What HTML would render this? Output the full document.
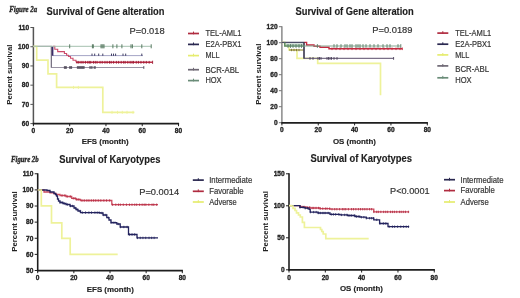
<!DOCTYPE html><html><head><meta charset="utf-8"><style>html,body{margin:0;padding:0;background:#fff;}svg{display:block;filter:blur(0.6px)}</style></head><body>
<svg width="520" height="298" viewBox="0 0 520 298">
<rect width="520" height="298" fill="#ffffff"/>
<text x="9.2" y="12.2" font-size="7.6" font-weight="bold" text-anchor="start" fill="#2a2a2a" font-family='"Liberation Serif", serif' font-style="italic" textLength="28" lengthAdjust="spacingAndGlyphs" stroke="#2a2a2a" stroke-width="0.35">Figure 2a</text>
<text x="46.5" y="15.3" font-size="10" font-weight="bold" text-anchor="start" fill="#1e1e1e" font-family='"Liberation Sans", sans-serif' font-style="normal" textLength="118" lengthAdjust="spacingAndGlyphs" stroke="#1e1e1e" stroke-width="0.15">Survival of Gene alteration</text>
<text x="129.6" y="34.1" font-size="9.9" font-weight="normal" text-anchor="start" fill="#333" font-family='"Liberation Sans", sans-serif' font-style="normal" textLength="35" lengthAdjust="spacingAndGlyphs" stroke="#333" stroke-width="0.2">P=0.018</text>
<line x1="33.4" y1="27.0" x2="33.4" y2="124.19999999999999" stroke="#555" stroke-width="1.5"/>
<line x1="30.4" y1="27.5" x2="33.4" y2="27.5" stroke="#555" stroke-width="1.0"/>
<text x="29.099999999999998" y="29.8" font-size="6.6" font-weight="bold" text-anchor="end" fill="#222" font-family='"Liberation Sans", sans-serif' font-style="normal" stroke="#222" stroke-width="0.3">110</text>
<line x1="30.4" y1="46.72" x2="33.4" y2="46.72" stroke="#555" stroke-width="1.0"/>
<text x="29.099999999999998" y="49.019999999999996" font-size="6.6" font-weight="bold" text-anchor="end" fill="#222" font-family='"Liberation Sans", sans-serif' font-style="normal" stroke="#222" stroke-width="0.3">100</text>
<line x1="30.4" y1="65.94" x2="33.4" y2="65.94" stroke="#555" stroke-width="1.0"/>
<text x="29.099999999999998" y="68.24" font-size="6.6" font-weight="bold" text-anchor="end" fill="#222" font-family='"Liberation Sans", sans-serif' font-style="normal" stroke="#222" stroke-width="0.3">90</text>
<line x1="30.4" y1="85.16" x2="33.4" y2="85.16" stroke="#555" stroke-width="1.0"/>
<text x="29.099999999999998" y="87.46" font-size="6.6" font-weight="bold" text-anchor="end" fill="#222" font-family='"Liberation Sans", sans-serif' font-style="normal" stroke="#222" stroke-width="0.3">80</text>
<line x1="30.4" y1="104.38" x2="33.4" y2="104.38" stroke="#555" stroke-width="1.0"/>
<text x="29.099999999999998" y="106.67999999999999" font-size="6.6" font-weight="bold" text-anchor="end" fill="#222" font-family='"Liberation Sans", sans-serif' font-style="normal" stroke="#222" stroke-width="0.3">70</text>
<line x1="30.4" y1="123.6" x2="33.4" y2="123.6" stroke="#555" stroke-width="1.0"/>
<text x="29.099999999999998" y="125.89999999999999" font-size="6.6" font-weight="bold" text-anchor="end" fill="#222" font-family='"Liberation Sans", sans-serif' font-style="normal" stroke="#222" stroke-width="0.3">60</text>
<line x1="32.8" y1="123.6" x2="179.1" y2="123.6" stroke="#1e1e1e" stroke-width="1.7"/>
<line x1="33.4" y1="123.6" x2="33.4" y2="126.19999999999999" stroke="#1e1e1e" stroke-width="1.0"/>
<text x="33.4" y="133.2" font-size="6.6" font-weight="bold" text-anchor="middle" fill="#222" font-family='"Liberation Sans", sans-serif' font-style="normal" stroke="#222" stroke-width="0.3">0</text>
<line x1="69.68" y1="123.6" x2="69.68" y2="126.19999999999999" stroke="#1e1e1e" stroke-width="1.0"/>
<text x="69.68" y="133.2" font-size="6.6" font-weight="bold" text-anchor="middle" fill="#222" font-family='"Liberation Sans", sans-serif' font-style="normal" stroke="#222" stroke-width="0.3">20</text>
<line x1="105.96000000000001" y1="123.6" x2="105.96000000000001" y2="126.19999999999999" stroke="#1e1e1e" stroke-width="1.0"/>
<text x="105.96000000000001" y="133.2" font-size="6.6" font-weight="bold" text-anchor="middle" fill="#222" font-family='"Liberation Sans", sans-serif' font-style="normal" stroke="#222" stroke-width="0.3">40</text>
<line x1="142.24" y1="123.6" x2="142.24" y2="126.19999999999999" stroke="#1e1e1e" stroke-width="1.0"/>
<text x="142.24" y="133.2" font-size="6.6" font-weight="bold" text-anchor="middle" fill="#222" font-family='"Liberation Sans", sans-serif' font-style="normal" stroke="#222" stroke-width="0.3">60</text>
<line x1="178.52" y1="123.6" x2="178.52" y2="126.19999999999999" stroke="#1e1e1e" stroke-width="1.0"/>
<text x="178.52" y="133.2" font-size="6.6" font-weight="bold" text-anchor="middle" fill="#222" font-family='"Liberation Sans", sans-serif' font-style="normal" stroke="#222" stroke-width="0.3">80</text>
<text x="0" y="0" font-size="8" font-weight="bold" text-anchor="middle" fill="#222" font-family='"Liberation Sans", sans-serif' textLength="60.1" lengthAdjust="spacingAndGlyphs" transform="translate(12.4,74.65) rotate(-90)">Percent survival</text>
<text x="105.2" y="144.4" font-size="8" font-weight="bold" text-anchor="middle" fill="#222" font-family='"Liberation Sans", sans-serif' font-style="normal" textLength="47" lengthAdjust="spacingAndGlyphs" stroke="#222" stroke-width="0.15">EFS (month)</text>
<polyline points="33.40,46.30 51.40,46.30 51.40,67.50 143.80,67.50 143.80,67.50" fill="none" stroke="#9a94a4" stroke-width="1.1" stroke-linejoin="miter"/>
<line x1="51.4" y1="46.3" x2="51.4" y2="67.5" stroke="#7a7484" stroke-width="1.2"/>
<line x1="64.4" y1="66.1" x2="64.4" y2="68.9" stroke="#4a4452" stroke-width="0.9"/>
<line x1="65.4" y1="66.1" x2="65.4" y2="68.9" stroke="#4a4452" stroke-width="0.9"/>
<line x1="66.3" y1="66.1" x2="66.3" y2="68.9" stroke="#4a4452" stroke-width="0.9"/>
<line x1="69.7" y1="66.1" x2="69.7" y2="68.9" stroke="#4a4452" stroke-width="0.9"/>
<line x1="70.7" y1="66.1" x2="70.7" y2="68.9" stroke="#4a4452" stroke-width="0.9"/>
<line x1="71.6" y1="66.1" x2="71.6" y2="68.9" stroke="#4a4452" stroke-width="0.9"/>
<line x1="77.4" y1="66.1" x2="77.4" y2="68.9" stroke="#4a4452" stroke-width="0.9"/>
<line x1="78.4" y1="66.1" x2="78.4" y2="68.9" stroke="#4a4452" stroke-width="0.9"/>
<line x1="79.4" y1="66.1" x2="79.4" y2="68.9" stroke="#4a4452" stroke-width="0.9"/>
<line x1="80.4" y1="66.1" x2="80.4" y2="68.9" stroke="#4a4452" stroke-width="0.9"/>
<line x1="81.4" y1="66.1" x2="81.4" y2="68.9" stroke="#4a4452" stroke-width="0.9"/>
<line x1="82.4" y1="66.1" x2="82.4" y2="68.9" stroke="#4a4452" stroke-width="0.9"/>
<line x1="83.3" y1="66.1" x2="83.3" y2="68.9" stroke="#4a4452" stroke-width="0.9"/>
<line x1="84.1" y1="66.1" x2="84.1" y2="68.9" stroke="#4a4452" stroke-width="0.9"/>
<line x1="89.9" y1="66.1" x2="89.9" y2="68.9" stroke="#4a4452" stroke-width="0.9"/>
<line x1="91" y1="66.1" x2="91" y2="68.9" stroke="#4a4452" stroke-width="0.9"/>
<line x1="92" y1="66.1" x2="92" y2="68.9" stroke="#4a4452" stroke-width="0.9"/>
<line x1="94.2" y1="66.1" x2="94.2" y2="68.9" stroke="#4a4452" stroke-width="0.9"/>
<line x1="95.2" y1="66.1" x2="95.2" y2="68.9" stroke="#4a4452" stroke-width="0.9"/>
<line x1="143.8" y1="66.1" x2="143.8" y2="68.9" stroke="#4a4452" stroke-width="0.9"/>
<polyline points="52.90,55.60 143.00,55.60" fill="none" stroke="#9a9ac0" stroke-width="0.9" stroke-linejoin="miter"/>
<line x1="52.6" y1="46.3" x2="52.6" y2="55.8" stroke="#3c2c6a" stroke-width="1.6"/>
<line x1="92" y1="53.6" x2="92" y2="55.8" stroke="#2a2850" stroke-width="0.9"/>
<line x1="94.7" y1="53.6" x2="94.7" y2="55.8" stroke="#2a2850" stroke-width="0.9"/>
<line x1="98.7" y1="53.6" x2="98.7" y2="55.8" stroke="#2a2850" stroke-width="0.9"/>
<line x1="102.8" y1="53.6" x2="102.8" y2="55.8" stroke="#2a2850" stroke-width="0.9"/>
<line x1="111.5" y1="53.6" x2="111.5" y2="55.8" stroke="#2a2850" stroke-width="0.9"/>
<line x1="113.5" y1="53.6" x2="113.5" y2="55.8" stroke="#2a2850" stroke-width="0.9"/>
<line x1="115.6" y1="53.6" x2="115.6" y2="55.8" stroke="#2a2850" stroke-width="0.9"/>
<line x1="123" y1="53.6" x2="123" y2="55.8" stroke="#2a2850" stroke-width="0.9"/>
<line x1="125.7" y1="53.6" x2="125.7" y2="55.8" stroke="#2a2850" stroke-width="0.9"/>
<line x1="141.8" y1="53.6" x2="141.8" y2="55.8" stroke="#2a2850" stroke-width="0.9"/>
<polyline points="52.90,46.30 54.80,46.30 54.80,49.20 57.70,49.20 57.70,51.60 64.40,51.60 64.40,53.50 66.60,53.50 66.60,55.20 68.50,55.20 68.50,56.50 70.50,56.50 70.50,58.30 73.00,58.30 73.00,60.20 76.00,60.20 76.00,62.30" fill="none" stroke="#cc4a6a" stroke-width="1.1" stroke-linejoin="miter"/>
<polyline points="76.00,62.30 152.60,62.30" fill="none" stroke="#c03048" stroke-width="1.5" stroke-linejoin="miter"/>
<line x1="77" y1="60.9" x2="77" y2="63.699999999999996" stroke="#9a1c34" stroke-width="0.9"/>
<line x1="78.78074340334703" y1="60.9" x2="78.78074340334703" y2="63.699999999999996" stroke="#9a1c34" stroke-width="0.9"/>
<line x1="81.05151016382055" y1="60.9" x2="81.05151016382055" y2="63.699999999999996" stroke="#9a1c34" stroke-width="0.9"/>
<line x1="83.04343843029748" y1="60.9" x2="83.04343843029748" y2="63.699999999999996" stroke="#9a1c34" stroke-width="0.9"/>
<line x1="85.4097104920514" y1="60.9" x2="85.4097104920514" y2="63.699999999999996" stroke="#9a1c34" stroke-width="0.9"/>
<line x1="87.81086297862429" y1="60.9" x2="87.81086297862429" y2="63.699999999999996" stroke="#9a1c34" stroke-width="0.9"/>
<line x1="89.315709153408" y1="60.9" x2="89.315709153408" y2="63.699999999999996" stroke="#9a1c34" stroke-width="0.9"/>
<line x1="90.73677793989579" y1="60.9" x2="90.73677793989579" y2="63.699999999999996" stroke="#9a1c34" stroke-width="0.9"/>
<line x1="93.47672847125013" y1="60.9" x2="93.47672847125013" y2="63.699999999999996" stroke="#9a1c34" stroke-width="0.9"/>
<line x1="95.29169489417494" y1="60.9" x2="95.29169489417494" y2="63.699999999999996" stroke="#9a1c34" stroke-width="0.9"/>
<line x1="97.06662443184965" y1="60.9" x2="97.06662443184965" y2="63.699999999999996" stroke="#9a1c34" stroke-width="0.9"/>
<line x1="100.0596561686664" y1="60.9" x2="100.0596561686664" y2="63.699999999999996" stroke="#9a1c34" stroke-width="0.9"/>
<line x1="102.21207778070232" y1="60.9" x2="102.21207778070232" y2="63.699999999999996" stroke="#9a1c34" stroke-width="0.9"/>
<line x1="104.95041610274134" y1="60.9" x2="104.95041610274134" y2="63.699999999999996" stroke="#9a1c34" stroke-width="0.9"/>
<line x1="107.11258123666028" y1="60.9" x2="107.11258123666028" y2="63.699999999999996" stroke="#9a1c34" stroke-width="0.9"/>
<line x1="109.53509026153094" y1="60.9" x2="109.53509026153094" y2="63.699999999999996" stroke="#9a1c34" stroke-width="0.9"/>
<line x1="111.17607653996858" y1="60.9" x2="111.17607653996858" y2="63.699999999999996" stroke="#9a1c34" stroke-width="0.9"/>
<line x1="113.59185359322488" y1="60.9" x2="113.59185359322488" y2="63.699999999999996" stroke="#9a1c34" stroke-width="0.9"/>
<line x1="116.38072608465416" y1="60.9" x2="116.38072608465416" y2="63.699999999999996" stroke="#9a1c34" stroke-width="0.9"/>
<line x1="118.61781602126744" y1="60.9" x2="118.61781602126744" y2="63.699999999999996" stroke="#9a1c34" stroke-width="0.9"/>
<line x1="121.20381899118983" y1="60.9" x2="121.20381899118983" y2="63.699999999999996" stroke="#9a1c34" stroke-width="0.9"/>
<line x1="123.67807735178118" y1="60.9" x2="123.67807735178118" y2="63.699999999999996" stroke="#9a1c34" stroke-width="0.9"/>
<line x1="125.18052765294438" y1="60.9" x2="125.18052765294438" y2="63.699999999999996" stroke="#9a1c34" stroke-width="0.9"/>
<line x1="127.79369604700328" y1="60.9" x2="127.79369604700328" y2="63.699999999999996" stroke="#9a1c34" stroke-width="0.9"/>
<line x1="130.1394553796934" y1="60.9" x2="130.1394553796934" y2="63.699999999999996" stroke="#9a1c34" stroke-width="0.9"/>
<line x1="132.02148363491855" y1="60.9" x2="132.02148363491855" y2="63.699999999999996" stroke="#9a1c34" stroke-width="0.9"/>
<line x1="133.47110243727016" y1="60.9" x2="133.47110243727016" y2="63.699999999999996" stroke="#9a1c34" stroke-width="0.9"/>
<line x1="136.25594601643647" y1="60.9" x2="136.25594601643647" y2="63.699999999999996" stroke="#9a1c34" stroke-width="0.9"/>
<line x1="138.4123445583012" y1="60.9" x2="138.4123445583012" y2="63.699999999999996" stroke="#9a1c34" stroke-width="0.9"/>
<line x1="140.9624628368065" y1="60.9" x2="140.9624628368065" y2="63.699999999999996" stroke="#9a1c34" stroke-width="0.9"/>
<line x1="143.76856331721527" y1="60.9" x2="143.76856331721527" y2="63.699999999999996" stroke="#9a1c34" stroke-width="0.9"/>
<line x1="146.3111704909932" y1="60.9" x2="146.3111704909932" y2="63.699999999999996" stroke="#9a1c34" stroke-width="0.9"/>
<line x1="149.18492835912738" y1="60.9" x2="149.18492835912738" y2="63.699999999999996" stroke="#9a1c34" stroke-width="0.9"/>
<line x1="152.6" y1="60.699999999999996" x2="152.6" y2="63.9" stroke="#9a1c34" stroke-width="0.9"/>
<polyline points="33.40,46.30 36.70,46.30 36.70,60.10 48.00,60.10 48.00,73.80 56.60,73.80 56.60,87.40 102.80,87.40 102.80,112.30 134.40,112.30 134.40,112.30" fill="none" stroke="#eef29a" stroke-width="1.7" stroke-linejoin="miter"/>
<line x1="73.5" y1="85.9" x2="73.5" y2="88.9" stroke="#eef29a" stroke-width="0.9"/>
<line x1="78.4" y1="85.9" x2="78.4" y2="88.9" stroke="#eef29a" stroke-width="0.9"/>
<line x1="112" y1="110.8" x2="112" y2="113.8" stroke="#eef29a" stroke-width="0.9"/>
<line x1="117.5" y1="110.8" x2="117.5" y2="113.8" stroke="#eef29a" stroke-width="0.9"/>
<line x1="122.3" y1="110.8" x2="122.3" y2="113.8" stroke="#eef29a" stroke-width="0.9"/>
<line x1="127" y1="110.8" x2="127" y2="113.8" stroke="#eef29a" stroke-width="0.9"/>
<line x1="133" y1="110.8" x2="133" y2="113.8" stroke="#eef29a" stroke-width="0.9"/>
<polyline points="33.40,46.30 151.20,46.30" fill="none" stroke="#a4c0ae" stroke-width="1.0" stroke-linejoin="miter"/>
<line x1="69.7" y1="44.3" x2="69.7" y2="48.3" stroke="#587a62" stroke-width="1.0"/>
<line x1="92.4" y1="44.3" x2="92.4" y2="48.3" stroke="#587a62" stroke-width="1.0"/>
<line x1="93.3" y1="44.3" x2="93.3" y2="48.3" stroke="#587a62" stroke-width="1.0"/>
<line x1="101" y1="44.3" x2="101" y2="48.3" stroke="#587a62" stroke-width="1.0"/>
<line x1="102" y1="44.3" x2="102" y2="48.3" stroke="#587a62" stroke-width="1.0"/>
<line x1="103" y1="44.3" x2="103" y2="48.3" stroke="#587a62" stroke-width="1.0"/>
<line x1="104" y1="44.3" x2="104" y2="48.3" stroke="#587a62" stroke-width="1.0"/>
<line x1="112.9" y1="44.3" x2="112.9" y2="48.3" stroke="#587a62" stroke-width="1.0"/>
<line x1="116.9" y1="44.3" x2="116.9" y2="48.3" stroke="#587a62" stroke-width="1.0"/>
<line x1="121.9" y1="44.3" x2="121.9" y2="48.3" stroke="#587a62" stroke-width="1.0"/>
<line x1="131" y1="44.3" x2="131" y2="48.3" stroke="#587a62" stroke-width="1.0"/>
<line x1="132.4" y1="44.3" x2="132.4" y2="48.3" stroke="#587a62" stroke-width="1.0"/>
<line x1="141.8" y1="44.3" x2="141.8" y2="48.3" stroke="#587a62" stroke-width="1.0"/>
<line x1="151.2" y1="44.3" x2="151.2" y2="48.3" stroke="#587a62" stroke-width="1.0"/>
<line x1="188" y1="33.5" x2="199.0" y2="33.5" stroke="#b02c40" stroke-width="1.7"/>
<line x1="193.5" y1="31.6" x2="193.5" y2="34.3" stroke="#b02c40" stroke-width="1.0"/>
<text x="205.4" y="36.3" font-size="8.4" font-weight="normal" text-anchor="start" fill="#383838" font-family='"Liberation Sans", sans-serif' font-style="normal" textLength="36.1" lengthAdjust="spacingAndGlyphs" stroke="#383838" stroke-width="0.2">TEL-AML1</text>
<line x1="188" y1="44.4" x2="199.0" y2="44.4" stroke="#2a2850" stroke-width="1.7"/>
<line x1="193.5" y1="42.5" x2="193.5" y2="45.199999999999996" stroke="#2a2850" stroke-width="1.0"/>
<text x="205.4" y="47.199999999999996" font-size="8.4" font-weight="normal" text-anchor="start" fill="#383838" font-family='"Liberation Sans", sans-serif' font-style="normal" textLength="36.1" lengthAdjust="spacingAndGlyphs" stroke="#383838" stroke-width="0.2">E2A-PBX1</text>
<line x1="188" y1="55.6" x2="199.0" y2="55.6" stroke="#e6ec70" stroke-width="1.7"/>
<line x1="193.5" y1="53.7" x2="193.5" y2="56.4" stroke="#e6ec70" stroke-width="1.0"/>
<text x="205.4" y="58.4" font-size="8.4" font-weight="normal" text-anchor="start" fill="#383838" font-family='"Liberation Sans", sans-serif' font-style="normal" textLength="14.2" lengthAdjust="spacingAndGlyphs" stroke="#383838" stroke-width="0.2">MLL</text>
<line x1="188" y1="69.7" x2="199.0" y2="69.7" stroke="#6e6874" stroke-width="1.7"/>
<line x1="193.5" y1="67.8" x2="193.5" y2="70.5" stroke="#6e6874" stroke-width="1.0"/>
<text x="205.4" y="72.5" font-size="8.4" font-weight="normal" text-anchor="start" fill="#383838" font-family='"Liberation Sans", sans-serif' font-style="normal" textLength="33.8" lengthAdjust="spacingAndGlyphs" stroke="#383838" stroke-width="0.2">BCR-ABL</text>
<line x1="188" y1="80.6" x2="199.0" y2="80.6" stroke="#6a8c78" stroke-width="1.7"/>
<line x1="193.5" y1="78.69999999999999" x2="193.5" y2="81.39999999999999" stroke="#6a8c78" stroke-width="1.0"/>
<text x="205.4" y="83.39999999999999" font-size="8.4" font-weight="normal" text-anchor="start" fill="#383838" font-family='"Liberation Sans", sans-serif' font-style="normal" textLength="16.2" lengthAdjust="spacingAndGlyphs" stroke="#383838" stroke-width="0.2">HOX</text>
<text x="295.5" y="15.3" font-size="10" font-weight="bold" text-anchor="start" fill="#1e1e1e" font-family='"Liberation Sans", sans-serif' font-style="normal" textLength="118.2" lengthAdjust="spacingAndGlyphs" stroke="#1e1e1e" stroke-width="0.15">Survival of Gene alteration</text>
<text x="372.2" y="33.0" font-size="9.9" font-weight="normal" text-anchor="start" fill="#333" font-family='"Liberation Sans", sans-serif' font-style="normal" textLength="40.3" lengthAdjust="spacingAndGlyphs" stroke="#333" stroke-width="0.2">P=0.0189</text>
<line x1="281.9" y1="26.2" x2="281.9" y2="123.3" stroke="#777" stroke-width="1.3"/>
<line x1="278.9" y1="26.700000000000003" x2="281.9" y2="26.700000000000003" stroke="#777" stroke-width="1.0"/>
<text x="277.59999999999997" y="29.000000000000004" font-size="6.6" font-weight="bold" text-anchor="end" fill="#222" font-family='"Liberation Sans", sans-serif' font-style="normal" stroke="#222" stroke-width="0.3">120</text>
<line x1="278.9" y1="42.7" x2="281.9" y2="42.7" stroke="#777" stroke-width="1.0"/>
<text x="277.59999999999997" y="45.0" font-size="6.6" font-weight="bold" text-anchor="end" fill="#222" font-family='"Liberation Sans", sans-serif' font-style="normal" stroke="#222" stroke-width="0.3">100</text>
<line x1="278.9" y1="58.7" x2="281.9" y2="58.7" stroke="#777" stroke-width="1.0"/>
<text x="277.59999999999997" y="61.0" font-size="6.6" font-weight="bold" text-anchor="end" fill="#222" font-family='"Liberation Sans", sans-serif' font-style="normal" stroke="#222" stroke-width="0.3">80</text>
<line x1="278.9" y1="74.7" x2="281.9" y2="74.7" stroke="#777" stroke-width="1.0"/>
<text x="277.59999999999997" y="77.0" font-size="6.6" font-weight="bold" text-anchor="end" fill="#222" font-family='"Liberation Sans", sans-serif' font-style="normal" stroke="#222" stroke-width="0.3">60</text>
<line x1="278.9" y1="90.7" x2="281.9" y2="90.7" stroke="#777" stroke-width="1.0"/>
<text x="277.59999999999997" y="93.0" font-size="6.6" font-weight="bold" text-anchor="end" fill="#222" font-family='"Liberation Sans", sans-serif' font-style="normal" stroke="#222" stroke-width="0.3">40</text>
<line x1="278.9" y1="106.7" x2="281.9" y2="106.7" stroke="#777" stroke-width="1.0"/>
<text x="277.59999999999997" y="109.0" font-size="6.6" font-weight="bold" text-anchor="end" fill="#222" font-family='"Liberation Sans", sans-serif' font-style="normal" stroke="#222" stroke-width="0.3">20</text>
<line x1="278.9" y1="122.7" x2="281.9" y2="122.7" stroke="#777" stroke-width="1.0"/>
<text x="277.59999999999997" y="125.0" font-size="6.6" font-weight="bold" text-anchor="end" fill="#222" font-family='"Liberation Sans", sans-serif' font-style="normal" stroke="#222" stroke-width="0.3">0</text>
<line x1="281.29999999999995" y1="122.8" x2="427.90000000000003" y2="122.8" stroke="#1e1e1e" stroke-width="1.7"/>
<line x1="281.9" y1="122.8" x2="281.9" y2="125.39999999999999" stroke="#1e1e1e" stroke-width="1.0"/>
<text x="281.9" y="132.4" font-size="6.6" font-weight="bold" text-anchor="middle" fill="#222" font-family='"Liberation Sans", sans-serif' font-style="normal" stroke="#222" stroke-width="0.3">0</text>
<line x1="318.25" y1="122.8" x2="318.25" y2="125.39999999999999" stroke="#1e1e1e" stroke-width="1.0"/>
<text x="318.25" y="132.4" font-size="6.6" font-weight="bold" text-anchor="middle" fill="#222" font-family='"Liberation Sans", sans-serif' font-style="normal" stroke="#222" stroke-width="0.3">20</text>
<line x1="354.59999999999997" y1="122.8" x2="354.59999999999997" y2="125.39999999999999" stroke="#1e1e1e" stroke-width="1.0"/>
<text x="354.59999999999997" y="132.4" font-size="6.6" font-weight="bold" text-anchor="middle" fill="#222" font-family='"Liberation Sans", sans-serif' font-style="normal" stroke="#222" stroke-width="0.3">40</text>
<line x1="390.95" y1="122.8" x2="390.95" y2="125.39999999999999" stroke="#1e1e1e" stroke-width="1.0"/>
<text x="390.95" y="132.4" font-size="6.6" font-weight="bold" text-anchor="middle" fill="#222" font-family='"Liberation Sans", sans-serif' font-style="normal" stroke="#222" stroke-width="0.3">60</text>
<line x1="427.29999999999995" y1="122.8" x2="427.29999999999995" y2="125.39999999999999" stroke="#1e1e1e" stroke-width="1.0"/>
<text x="427.29999999999995" y="132.4" font-size="6.6" font-weight="bold" text-anchor="middle" fill="#222" font-family='"Liberation Sans", sans-serif' font-style="normal" stroke="#222" stroke-width="0.3">80</text>
<text x="0" y="0" font-size="8" font-weight="bold" text-anchor="middle" fill="#222" font-family='"Liberation Sans", sans-serif' textLength="61.1" lengthAdjust="spacingAndGlyphs" transform="translate(261.1,74.2) rotate(-90)">Percent survival</text>
<text x="354.4" y="144.0" font-size="8" font-weight="bold" text-anchor="middle" fill="#222" font-family='"Liberation Sans", sans-serif' font-style="normal" textLength="43" lengthAdjust="spacingAndGlyphs" stroke="#222" stroke-width="0.15">OS (month)</text>
<polyline points="282.00,42.40 284.80,42.40 284.80,46.00 289.00,46.00 289.00,50.00 297.00,50.00 297.00,58.40 317.70,58.40 317.70,63.30 380.50,63.30 380.50,63.30 380.50,63.30 380.50,95.30" fill="none" stroke="#eef29a" stroke-width="1.7" stroke-linejoin="miter"/>
<polyline points="289.00,50.00 304.00,50.00" fill="none" stroke="#a09a48" stroke-width="1.3" stroke-linejoin="miter"/>
<line x1="291.5" y1="48.8" x2="291.5" y2="51.2" stroke="#7a7040" stroke-width="0.9"/>
<line x1="294" y1="48.8" x2="294" y2="51.2" stroke="#7a7040" stroke-width="0.9"/>
<line x1="296.5" y1="48.8" x2="296.5" y2="51.2" stroke="#7a7040" stroke-width="0.9"/>
<line x1="299" y1="48.8" x2="299" y2="51.2" stroke="#7a7040" stroke-width="0.9"/>
<polyline points="304.00,42.40 304.00,42.40 304.00,58.40 393.60,58.40 393.60,58.40" fill="none" stroke="#7a7088" stroke-width="1.1" stroke-linejoin="miter"/>
<line x1="310" y1="57.0" x2="310" y2="59.8" stroke="#4a405a" stroke-width="0.9"/>
<line x1="313" y1="57.0" x2="313" y2="59.8" stroke="#4a405a" stroke-width="0.9"/>
<line x1="318" y1="57.0" x2="318" y2="59.8" stroke="#4a405a" stroke-width="0.9"/>
<line x1="319.5" y1="57.0" x2="319.5" y2="59.8" stroke="#4a405a" stroke-width="0.9"/>
<line x1="321" y1="57.0" x2="321" y2="59.8" stroke="#4a405a" stroke-width="0.9"/>
<line x1="327" y1="57.0" x2="327" y2="59.8" stroke="#4a405a" stroke-width="0.9"/>
<line x1="328.5" y1="57.0" x2="328.5" y2="59.8" stroke="#4a405a" stroke-width="0.9"/>
<line x1="330" y1="57.0" x2="330" y2="59.8" stroke="#4a405a" stroke-width="0.9"/>
<line x1="331.5" y1="57.0" x2="331.5" y2="59.8" stroke="#4a405a" stroke-width="0.9"/>
<line x1="334" y1="57.0" x2="334" y2="59.8" stroke="#4a405a" stroke-width="0.9"/>
<line x1="337" y1="57.0" x2="337" y2="59.8" stroke="#4a405a" stroke-width="0.9"/>
<line x1="393.6" y1="57.0" x2="393.6" y2="59.8" stroke="#4a405a" stroke-width="0.9"/>
<polyline points="304.00,42.40 306.60,42.40 306.60,45.00 314.00,45.00 314.00,46.30 320.00,46.30 320.00,47.30 329.00,47.30 329.00,48.80 402.30,48.80 402.30,48.80" fill="none" stroke="#c42a40" stroke-width="1.4" stroke-linejoin="miter"/>
<line x1="332" y1="47.5" x2="332" y2="50.099999999999994" stroke="#c42a40" stroke-width="0.9"/>
<line x1="336" y1="47.5" x2="336" y2="50.099999999999994" stroke="#c42a40" stroke-width="0.9"/>
<line x1="340" y1="47.5" x2="340" y2="50.099999999999994" stroke="#c42a40" stroke-width="0.9"/>
<line x1="344" y1="47.5" x2="344" y2="50.099999999999994" stroke="#c42a40" stroke-width="0.9"/>
<line x1="348" y1="47.5" x2="348" y2="50.099999999999994" stroke="#c42a40" stroke-width="0.9"/>
<line x1="352" y1="47.5" x2="352" y2="50.099999999999994" stroke="#c42a40" stroke-width="0.9"/>
<line x1="356" y1="47.5" x2="356" y2="50.099999999999994" stroke="#c42a40" stroke-width="0.9"/>
<line x1="360" y1="47.5" x2="360" y2="50.099999999999994" stroke="#c42a40" stroke-width="0.9"/>
<line x1="364" y1="47.5" x2="364" y2="50.099999999999994" stroke="#c42a40" stroke-width="0.9"/>
<line x1="368" y1="47.5" x2="368" y2="50.099999999999994" stroke="#c42a40" stroke-width="0.9"/>
<line x1="372" y1="47.5" x2="372" y2="50.099999999999994" stroke="#c42a40" stroke-width="0.9"/>
<line x1="376" y1="47.5" x2="376" y2="50.099999999999994" stroke="#c42a40" stroke-width="0.9"/>
<line x1="380" y1="47.5" x2="380" y2="50.099999999999994" stroke="#c42a40" stroke-width="0.9"/>
<line x1="384" y1="47.5" x2="384" y2="50.099999999999994" stroke="#c42a40" stroke-width="0.9"/>
<line x1="388" y1="47.5" x2="388" y2="50.099999999999994" stroke="#c42a40" stroke-width="0.9"/>
<line x1="392" y1="47.5" x2="392" y2="50.099999999999994" stroke="#c42a40" stroke-width="0.9"/>
<line x1="396" y1="47.5" x2="396" y2="50.099999999999994" stroke="#c42a40" stroke-width="0.9"/>
<line x1="400" y1="47.5" x2="400" y2="50.099999999999994" stroke="#c42a40" stroke-width="0.9"/>
<line x1="402.3" y1="47.5" x2="402.3" y2="50.099999999999994" stroke="#c42a40" stroke-width="0.9"/>
<polyline points="281.90,42.40 304.00,42.40" fill="none" stroke="#4c4c66" stroke-width="1.3" stroke-linejoin="miter"/>
<line x1="304" y1="42.2" x2="304" y2="58.6" stroke="#3a3a4c" stroke-width="1.4"/>
<polyline points="284.80,42.40 284.80,42.40 284.80,46.00 304.00,46.00 304.00,46.00" fill="none" stroke="#5a8a68" stroke-width="1.5" stroke-linejoin="miter"/>
<polyline points="286.00,44.20 303.00,44.20" fill="none" stroke="#8ab098" stroke-width="0.9" stroke-linejoin="miter"/>
<polyline points="304.00,46.00 400.80,46.00" fill="none" stroke="#86a892" stroke-width="1.1" stroke-linejoin="miter"/>
<line x1="288" y1="44.1" x2="288" y2="47.9" stroke="#5a7e66" stroke-width="0.9"/>
<line x1="290.5" y1="44.1" x2="290.5" y2="47.9" stroke="#5a7e66" stroke-width="0.9"/>
<line x1="293" y1="44.1" x2="293" y2="47.9" stroke="#5a7e66" stroke-width="0.9"/>
<line x1="296" y1="44.1" x2="296" y2="47.9" stroke="#5a7e66" stroke-width="0.9"/>
<line x1="299" y1="44.1" x2="299" y2="47.9" stroke="#5a7e66" stroke-width="0.9"/>
<line x1="301.5" y1="44.1" x2="301.5" y2="47.9" stroke="#5a7e66" stroke-width="0.9"/>
<line x1="317.4" y1="44.1" x2="317.4" y2="47.9" stroke="#5a7e66" stroke-width="0.9"/>
<line x1="334" y1="44.1" x2="334" y2="47.9" stroke="#5a7e66" stroke-width="0.9"/>
<line x1="337" y1="44.1" x2="337" y2="47.9" stroke="#5a7e66" stroke-width="0.9"/>
<line x1="341" y1="44.1" x2="341" y2="47.9" stroke="#5a7e66" stroke-width="0.9"/>
<line x1="345" y1="44.1" x2="345" y2="47.9" stroke="#5a7e66" stroke-width="0.9"/>
<line x1="347" y1="44.1" x2="347" y2="47.9" stroke="#5a7e66" stroke-width="0.9"/>
<line x1="350" y1="44.1" x2="350" y2="47.9" stroke="#5a7e66" stroke-width="0.9"/>
<line x1="352" y1="44.1" x2="352" y2="47.9" stroke="#5a7e66" stroke-width="0.9"/>
<line x1="356" y1="44.1" x2="356" y2="47.9" stroke="#5a7e66" stroke-width="0.9"/>
<line x1="358" y1="44.1" x2="358" y2="47.9" stroke="#5a7e66" stroke-width="0.9"/>
<line x1="360" y1="44.1" x2="360" y2="47.9" stroke="#5a7e66" stroke-width="0.9"/>
<line x1="363" y1="44.1" x2="363" y2="47.9" stroke="#5a7e66" stroke-width="0.9"/>
<line x1="366" y1="44.1" x2="366" y2="47.9" stroke="#5a7e66" stroke-width="0.9"/>
<line x1="370" y1="44.1" x2="370" y2="47.9" stroke="#5a7e66" stroke-width="0.9"/>
<line x1="374" y1="44.1" x2="374" y2="47.9" stroke="#5a7e66" stroke-width="0.9"/>
<line x1="378" y1="44.1" x2="378" y2="47.9" stroke="#5a7e66" stroke-width="0.9"/>
<line x1="383" y1="44.1" x2="383" y2="47.9" stroke="#5a7e66" stroke-width="0.9"/>
<line x1="387" y1="44.1" x2="387" y2="47.9" stroke="#5a7e66" stroke-width="0.9"/>
<line x1="390" y1="44.1" x2="390" y2="47.9" stroke="#5a7e66" stroke-width="0.9"/>
<line x1="398" y1="44.1" x2="398" y2="47.9" stroke="#5a7e66" stroke-width="0.9"/>
<line x1="400.8" y1="44.1" x2="400.8" y2="47.9" stroke="#5a7e66" stroke-width="0.9"/>
<line x1="437.3" y1="33.1" x2="448.3" y2="33.1" stroke="#b02c40" stroke-width="1.7"/>
<line x1="442.8" y1="31.200000000000003" x2="442.8" y2="33.9" stroke="#b02c40" stroke-width="1.0"/>
<text x="455.2" y="35.9" font-size="8.4" font-weight="normal" text-anchor="start" fill="#383838" font-family='"Liberation Sans", sans-serif' font-style="normal" textLength="36.1" lengthAdjust="spacingAndGlyphs" stroke="#383838" stroke-width="0.2">TEL-AML1</text>
<line x1="437.3" y1="44.2" x2="448.3" y2="44.2" stroke="#2a2850" stroke-width="1.7"/>
<line x1="442.8" y1="42.300000000000004" x2="442.8" y2="45.0" stroke="#2a2850" stroke-width="1.0"/>
<text x="455.2" y="47.0" font-size="8.4" font-weight="normal" text-anchor="start" fill="#383838" font-family='"Liberation Sans", sans-serif' font-style="normal" textLength="36.1" lengthAdjust="spacingAndGlyphs" stroke="#383838" stroke-width="0.2">E2A-PBX1</text>
<line x1="437.3" y1="54.9" x2="448.3" y2="54.9" stroke="#e6ec70" stroke-width="1.7"/>
<line x1="442.8" y1="53.0" x2="442.8" y2="55.699999999999996" stroke="#e6ec70" stroke-width="1.0"/>
<text x="455.2" y="57.699999999999996" font-size="8.4" font-weight="normal" text-anchor="start" fill="#383838" font-family='"Liberation Sans", sans-serif' font-style="normal" textLength="14.2" lengthAdjust="spacingAndGlyphs" stroke="#383838" stroke-width="0.2">MLL</text>
<line x1="437.3" y1="65.9" x2="448.3" y2="65.9" stroke="#6e6874" stroke-width="1.7"/>
<line x1="442.8" y1="64.0" x2="442.8" y2="66.7" stroke="#6e6874" stroke-width="1.0"/>
<text x="455.2" y="71.5" font-size="8.4" font-weight="normal" text-anchor="start" fill="#383838" font-family='"Liberation Sans", sans-serif' font-style="normal" textLength="34.0" lengthAdjust="spacingAndGlyphs" stroke="#383838" stroke-width="0.2">BCR-ABL</text>
<line x1="437.3" y1="77.8" x2="448.3" y2="77.8" stroke="#6a8c78" stroke-width="1.7"/>
<line x1="442.8" y1="75.89999999999999" x2="442.8" y2="78.6" stroke="#6a8c78" stroke-width="1.0"/>
<text x="455.2" y="82.9" font-size="8.4" font-weight="normal" text-anchor="start" fill="#383838" font-family='"Liberation Sans", sans-serif' font-style="normal" textLength="16.4" lengthAdjust="spacingAndGlyphs" stroke="#383838" stroke-width="0.2">HOX</text>
<text x="11" y="161.9" font-size="7.4" font-weight="bold" text-anchor="start" fill="#2a2a2a" font-family='"Liberation Serif", serif' font-style="italic" textLength="27.6" lengthAdjust="spacingAndGlyphs" stroke="#2a2a2a" stroke-width="0.35">Figure 2b</text>
<text x="59.2" y="162.5" font-size="10" font-weight="bold" text-anchor="start" fill="#1e1e1e" font-family='"Liberation Sans", sans-serif' font-style="normal" textLength="101.2" lengthAdjust="spacingAndGlyphs" stroke="#1e1e1e" stroke-width="0.15">Survival of Karyotypes</text>
<text x="139.2" y="194.5" font-size="9.9" font-weight="normal" text-anchor="start" fill="#333" font-family='"Liberation Sans", sans-serif' font-style="normal" textLength="40" lengthAdjust="spacingAndGlyphs" stroke="#333" stroke-width="0.2">P=0.0014</text>
<line x1="37.7" y1="173.3" x2="37.7" y2="271.20000000000005" stroke="#1e1e1e" stroke-width="1.6"/>
<line x1="34.7" y1="173.78" x2="37.7" y2="173.78" stroke="#1e1e1e" stroke-width="1.0"/>
<text x="33.400000000000006" y="176.08" font-size="6.6" font-weight="bold" text-anchor="end" fill="#222" font-family='"Liberation Sans", sans-serif' font-style="normal" stroke="#222" stroke-width="0.3">110</text>
<line x1="34.7" y1="189.89999999999998" x2="37.7" y2="189.89999999999998" stroke="#1e1e1e" stroke-width="1.0"/>
<text x="33.400000000000006" y="192.2" font-size="6.6" font-weight="bold" text-anchor="end" fill="#222" font-family='"Liberation Sans", sans-serif' font-style="normal" stroke="#222" stroke-width="0.3">100</text>
<line x1="34.7" y1="206.01999999999998" x2="37.7" y2="206.01999999999998" stroke="#1e1e1e" stroke-width="1.0"/>
<text x="33.400000000000006" y="208.32" font-size="6.6" font-weight="bold" text-anchor="end" fill="#222" font-family='"Liberation Sans", sans-serif' font-style="normal" stroke="#222" stroke-width="0.3">90</text>
<line x1="34.7" y1="222.14" x2="37.7" y2="222.14" stroke="#1e1e1e" stroke-width="1.0"/>
<text x="33.400000000000006" y="224.44" font-size="6.6" font-weight="bold" text-anchor="end" fill="#222" font-family='"Liberation Sans", sans-serif' font-style="normal" stroke="#222" stroke-width="0.3">80</text>
<line x1="34.7" y1="238.26" x2="37.7" y2="238.26" stroke="#1e1e1e" stroke-width="1.0"/>
<text x="33.400000000000006" y="240.56" font-size="6.6" font-weight="bold" text-anchor="end" fill="#222" font-family='"Liberation Sans", sans-serif' font-style="normal" stroke="#222" stroke-width="0.3">70</text>
<line x1="34.7" y1="254.38" x2="37.7" y2="254.38" stroke="#1e1e1e" stroke-width="1.0"/>
<text x="33.400000000000006" y="256.68" font-size="6.6" font-weight="bold" text-anchor="end" fill="#222" font-family='"Liberation Sans", sans-serif' font-style="normal" stroke="#222" stroke-width="0.3">60</text>
<line x1="34.7" y1="270.5" x2="37.7" y2="270.5" stroke="#1e1e1e" stroke-width="1.0"/>
<text x="33.400000000000006" y="272.8" font-size="6.6" font-weight="bold" text-anchor="end" fill="#222" font-family='"Liberation Sans", sans-serif' font-style="normal" stroke="#222" stroke-width="0.3">50</text>
<line x1="37.1" y1="270.6" x2="182.9" y2="270.6" stroke="#1e1e1e" stroke-width="1.7"/>
<line x1="37.7" y1="270.6" x2="37.7" y2="273.20000000000005" stroke="#1e1e1e" stroke-width="1.0"/>
<text x="37.7" y="280.20000000000005" font-size="6.6" font-weight="bold" text-anchor="middle" fill="#222" font-family='"Liberation Sans", sans-serif' font-style="normal" stroke="#222" stroke-width="0.3">0</text>
<line x1="73.85000000000001" y1="270.6" x2="73.85000000000001" y2="273.20000000000005" stroke="#1e1e1e" stroke-width="1.0"/>
<text x="73.85000000000001" y="280.20000000000005" font-size="6.6" font-weight="bold" text-anchor="middle" fill="#222" font-family='"Liberation Sans", sans-serif' font-style="normal" stroke="#222" stroke-width="0.3">20</text>
<line x1="110.00000000000001" y1="270.6" x2="110.00000000000001" y2="273.20000000000005" stroke="#1e1e1e" stroke-width="1.0"/>
<text x="110.00000000000001" y="280.20000000000005" font-size="6.6" font-weight="bold" text-anchor="middle" fill="#222" font-family='"Liberation Sans", sans-serif' font-style="normal" stroke="#222" stroke-width="0.3">40</text>
<line x1="146.15" y1="270.6" x2="146.15" y2="273.20000000000005" stroke="#1e1e1e" stroke-width="1.0"/>
<text x="146.15" y="280.20000000000005" font-size="6.6" font-weight="bold" text-anchor="middle" fill="#222" font-family='"Liberation Sans", sans-serif' font-style="normal" stroke="#222" stroke-width="0.3">60</text>
<line x1="182.3" y1="270.6" x2="182.3" y2="273.20000000000005" stroke="#1e1e1e" stroke-width="1.0"/>
<text x="182.3" y="280.20000000000005" font-size="6.6" font-weight="bold" text-anchor="middle" fill="#222" font-family='"Liberation Sans", sans-serif' font-style="normal" stroke="#222" stroke-width="0.3">80</text>
<text x="0" y="0" font-size="8" font-weight="bold" text-anchor="middle" fill="#222" font-family='"Liberation Sans", sans-serif' textLength="60.3" lengthAdjust="spacingAndGlyphs" transform="translate(16.8,221.6) rotate(-90)">Percent survival</text>
<text x="110.3" y="291.5" font-size="8" font-weight="bold" text-anchor="middle" fill="#222" font-family='"Liberation Sans", sans-serif' font-style="normal" textLength="47" lengthAdjust="spacingAndGlyphs" stroke="#222" stroke-width="0.15">EFS (month)</text>
<polyline points="37.70,190.00 42.00,190.00 42.00,190.00 44.00,190.00 44.00,192.00 50.00,192.00 50.00,192.80 54.00,192.80 54.00,193.50 56.00,193.50 56.00,194.50 60.00,194.50 60.00,195.50 66.00,195.50 66.00,196.50 71.70,196.50 71.70,198.30 76.00,198.30 76.00,199.50 80.50,199.50 80.50,200.50 111.80,200.50 111.80,204.70 158.00,204.70 158.00,204.70" fill="none" stroke="#cc4a5e" stroke-width="1.3" stroke-linejoin="miter"/>
<line x1="62" y1="194.3" x2="62" y2="196.7" stroke="#b02a40" stroke-width="0.8"/>
<line x1="64.88145403357636" y1="194.3" x2="64.88145403357636" y2="196.7" stroke="#b02a40" stroke-width="0.8"/>
<line x1="67.19284772325757" y1="195.3" x2="67.19284772325757" y2="197.7" stroke="#b02a40" stroke-width="0.8"/>
<line x1="70.2897864779848" y1="195.3" x2="70.2897864779848" y2="197.7" stroke="#b02a40" stroke-width="0.8"/>
<line x1="73.29597313452567" y1="197.10000000000002" x2="73.29597313452567" y2="199.5" stroke="#b02a40" stroke-width="0.8"/>
<line x1="75.05190003009507" y1="197.10000000000002" x2="75.05190003009507" y2="199.5" stroke="#b02a40" stroke-width="0.8"/>
<line x1="76.86945020641613" y1="198.3" x2="76.86945020641613" y2="200.7" stroke="#b02a40" stroke-width="0.8"/>
<line x1="78.81662931238915" y1="198.3" x2="78.81662931238915" y2="200.7" stroke="#b02a40" stroke-width="0.8"/>
<line x1="81.96139753462627" y1="199.3" x2="81.96139753462627" y2="201.7" stroke="#b02a40" stroke-width="0.8"/>
<line x1="84.25925652123016" y1="199.3" x2="84.25925652123016" y2="201.7" stroke="#b02a40" stroke-width="0.8"/>
<line x1="86.86189378661705" y1="199.3" x2="86.86189378661705" y2="201.7" stroke="#b02a40" stroke-width="0.8"/>
<line x1="88.94353570409785" y1="199.3" x2="88.94353570409785" y2="201.7" stroke="#b02a40" stroke-width="0.8"/>
<line x1="91.35512447822435" y1="199.3" x2="91.35512447822435" y2="201.7" stroke="#b02a40" stroke-width="0.8"/>
<line x1="93.5725104923762" y1="199.3" x2="93.5725104923762" y2="201.7" stroke="#b02a40" stroke-width="0.8"/>
<line x1="95.73396727440849" y1="199.3" x2="95.73396727440849" y2="201.7" stroke="#b02a40" stroke-width="0.8"/>
<line x1="98.27008584625706" y1="199.3" x2="98.27008584625706" y2="201.7" stroke="#b02a40" stroke-width="0.8"/>
<line x1="100.80488871500938" y1="199.3" x2="100.80488871500938" y2="201.7" stroke="#b02a40" stroke-width="0.8"/>
<line x1="103.85161154836582" y1="199.3" x2="103.85161154836582" y2="201.7" stroke="#b02a40" stroke-width="0.8"/>
<line x1="106.54278296698178" y1="199.3" x2="106.54278296698178" y2="201.7" stroke="#b02a40" stroke-width="0.8"/>
<line x1="109.6290959289018" y1="199.3" x2="109.6290959289018" y2="201.7" stroke="#b02a40" stroke-width="0.8"/>
<line x1="112.59933683513661" y1="203.5" x2="112.59933683513661" y2="205.89999999999998" stroke="#b02a40" stroke-width="0.8"/>
<line x1="115.78492026692672" y1="203.5" x2="115.78492026692672" y2="205.89999999999998" stroke="#b02a40" stroke-width="0.8"/>
<line x1="118.45895793438675" y1="203.5" x2="118.45895793438675" y2="205.89999999999998" stroke="#b02a40" stroke-width="0.8"/>
<line x1="120.31991732954046" y1="203.5" x2="120.31991732954046" y2="205.89999999999998" stroke="#b02a40" stroke-width="0.8"/>
<line x1="123.2969373825265" y1="203.5" x2="123.2969373825265" y2="205.89999999999998" stroke="#b02a40" stroke-width="0.8"/>
<line x1="126.44035009822099" y1="203.5" x2="126.44035009822099" y2="205.89999999999998" stroke="#b02a40" stroke-width="0.8"/>
<line x1="129.48786367344056" y1="203.5" x2="129.48786367344056" y2="205.89999999999998" stroke="#b02a40" stroke-width="0.8"/>
<line x1="131.99843567899947" y1="203.5" x2="131.99843567899947" y2="205.89999999999998" stroke="#b02a40" stroke-width="0.8"/>
<line x1="134.7405429112782" y1="203.5" x2="134.7405429112782" y2="205.89999999999998" stroke="#b02a40" stroke-width="0.8"/>
<line x1="136.67834288515917" y1="203.5" x2="136.67834288515917" y2="205.89999999999998" stroke="#b02a40" stroke-width="0.8"/>
<line x1="139.60891557359653" y1="203.5" x2="139.60891557359653" y2="205.89999999999998" stroke="#b02a40" stroke-width="0.8"/>
<line x1="142.12656733735858" y1="203.5" x2="142.12656733735858" y2="205.89999999999998" stroke="#b02a40" stroke-width="0.8"/>
<line x1="144.1824992765365" y1="203.5" x2="144.1824992765365" y2="205.89999999999998" stroke="#b02a40" stroke-width="0.8"/>
<line x1="145.88403619996888" y1="203.5" x2="145.88403619996888" y2="205.89999999999998" stroke="#b02a40" stroke-width="0.8"/>
<line x1="148.85034418144517" y1="203.5" x2="148.85034418144517" y2="205.89999999999998" stroke="#b02a40" stroke-width="0.8"/>
<line x1="152.0340338053197" y1="203.5" x2="152.0340338053197" y2="205.89999999999998" stroke="#b02a40" stroke-width="0.8"/>
<line x1="153.77566275429527" y1="203.5" x2="153.77566275429527" y2="205.89999999999998" stroke="#b02a40" stroke-width="0.8"/>
<line x1="156.65661526830726" y1="203.5" x2="156.65661526830726" y2="205.89999999999998" stroke="#b02a40" stroke-width="0.8"/>
<polyline points="37.70,190.00 42.00,190.00 42.00,190.00 47.00,190.00 47.00,190.50 50.00,190.50 50.00,192.00 54.00,192.00 54.00,193.50 55.50,193.50 55.50,194.50 56.50,194.50 56.50,196.00 57.50,196.00 57.50,199.00 58.50,199.00 58.50,201.00 60.00,201.00 60.00,202.50 63.00,202.50 63.00,203.50 66.00,203.50 66.00,204.50 70.00,204.50 70.00,206.00 74.00,206.00 74.00,208.00 76.00,208.00 76.00,209.50 78.00,209.50 78.00,211.00 80.50,211.00 80.50,212.60 100.00,212.60 100.00,213.00 103.00,213.00 103.00,215.00 106.80,215.00 106.80,217.70 109.00,217.70 109.00,220.00 111.00,220.00 111.00,222.70 116.80,222.70 116.80,224.00 120.20,224.00 120.20,227.00 128.50,227.00 128.50,234.50 137.00,234.50 137.00,237.90 158.00,237.90 158.00,237.90" fill="none" stroke="#23235e" stroke-width="1.3" stroke-linejoin="miter"/>
<line x1="60" y1="201.3" x2="60" y2="203.7" stroke="#23235e" stroke-width="0.8"/>
<line x1="62.0412245991245" y1="201.3" x2="62.0412245991245" y2="203.7" stroke="#23235e" stroke-width="0.8"/>
<line x1="64.311450594035" y1="202.3" x2="64.311450594035" y2="204.7" stroke="#23235e" stroke-width="0.8"/>
<line x1="67.34151761367875" y1="203.3" x2="67.34151761367875" y2="205.7" stroke="#23235e" stroke-width="0.8"/>
<line x1="70.53794485308387" y1="204.8" x2="70.53794485308387" y2="207.2" stroke="#23235e" stroke-width="0.8"/>
<line x1="72.40864895089113" y1="204.8" x2="72.40864895089113" y2="207.2" stroke="#23235e" stroke-width="0.8"/>
<line x1="75.19190099654203" y1="206.8" x2="75.19190099654203" y2="209.2" stroke="#23235e" stroke-width="0.8"/>
<line x1="77.06380538613568" y1="208.3" x2="77.06380538613568" y2="210.7" stroke="#23235e" stroke-width="0.8"/>
<line x1="80.01331015005331" y1="209.8" x2="80.01331015005331" y2="212.2" stroke="#23235e" stroke-width="0.8"/>
<line x1="82.34283678368372" y1="211.4" x2="82.34283678368372" y2="213.79999999999998" stroke="#23235e" stroke-width="0.8"/>
<line x1="85.5522852752795" y1="211.4" x2="85.5522852752795" y2="213.79999999999998" stroke="#23235e" stroke-width="0.8"/>
<line x1="88.92130248622884" y1="211.4" x2="88.92130248622884" y2="213.79999999999998" stroke="#23235e" stroke-width="0.8"/>
<line x1="91.52997508406571" y1="211.4" x2="91.52997508406571" y2="213.79999999999998" stroke="#23235e" stroke-width="0.8"/>
<line x1="94.92758939666696" y1="211.4" x2="94.92758939666696" y2="213.79999999999998" stroke="#23235e" stroke-width="0.8"/>
<line x1="97.2230614822291" y1="211.4" x2="97.2230614822291" y2="213.79999999999998" stroke="#23235e" stroke-width="0.8"/>
<line x1="99.14621460975776" y1="211.4" x2="99.14621460975776" y2="213.79999999999998" stroke="#23235e" stroke-width="0.8"/>
<line x1="101.90583510383233" y1="211.8" x2="101.90583510383233" y2="214.2" stroke="#23235e" stroke-width="0.8"/>
<line x1="103.75603952331284" y1="213.8" x2="103.75603952331284" y2="216.2" stroke="#23235e" stroke-width="0.8"/>
<line x1="105.8718552935983" y1="213.8" x2="105.8718552935983" y2="216.2" stroke="#23235e" stroke-width="0.8"/>
<line x1="108.32455311058548" y1="216.5" x2="108.32455311058548" y2="218.89999999999998" stroke="#23235e" stroke-width="0.8"/>
<line x1="111.10130050733324" y1="221.5" x2="111.10130050733324" y2="223.89999999999998" stroke="#23235e" stroke-width="0.8"/>
<line x1="113.15121889295494" y1="221.5" x2="113.15121889295494" y2="223.89999999999998" stroke="#23235e" stroke-width="0.8"/>
<line x1="115.01911621250888" y1="221.5" x2="115.01911621250888" y2="223.89999999999998" stroke="#23235e" stroke-width="0.8"/>
<line x1="118.20756266679324" y1="222.8" x2="118.20756266679324" y2="225.2" stroke="#23235e" stroke-width="0.8"/>
<line x1="120.50969149865898" y1="225.8" x2="120.50969149865898" y2="228.2" stroke="#23235e" stroke-width="0.8"/>
<line x1="123.84354658091252" y1="225.8" x2="123.84354658091252" y2="228.2" stroke="#23235e" stroke-width="0.8"/>
<line x1="127.07820200719668" y1="225.8" x2="127.07820200719668" y2="228.2" stroke="#23235e" stroke-width="0.8"/>
<line x1="129.48266479025617" y1="233.3" x2="129.48266479025617" y2="235.7" stroke="#23235e" stroke-width="0.8"/>
<line x1="132.0193202028096" y1="233.3" x2="132.0193202028096" y2="235.7" stroke="#23235e" stroke-width="0.8"/>
<line x1="134.6514369781577" y1="233.3" x2="134.6514369781577" y2="235.7" stroke="#23235e" stroke-width="0.8"/>
<line x1="137.48165892757808" y1="236.70000000000002" x2="137.48165892757808" y2="239.1" stroke="#23235e" stroke-width="0.8"/>
<line x1="140.23469930902124" y1="236.70000000000002" x2="140.23469930902124" y2="239.1" stroke="#23235e" stroke-width="0.8"/>
<line x1="142.92951700824585" y1="236.70000000000002" x2="142.92951700824585" y2="239.1" stroke="#23235e" stroke-width="0.8"/>
<line x1="145.72171882495826" y1="236.70000000000002" x2="145.72171882495826" y2="239.1" stroke="#23235e" stroke-width="0.8"/>
<line x1="149.0267128336366" y1="236.70000000000002" x2="149.0267128336366" y2="239.1" stroke="#23235e" stroke-width="0.8"/>
<line x1="151.63795573914965" y1="236.70000000000002" x2="151.63795573914965" y2="239.1" stroke="#23235e" stroke-width="0.8"/>
<line x1="154.12786222463913" y1="236.70000000000002" x2="154.12786222463913" y2="239.1" stroke="#23235e" stroke-width="0.8"/>
<polyline points="37.70,190.00 41.30,190.00 41.30,205.90 51.50,205.90 51.50,222.90 61.80,222.90 61.80,238.40 70.20,238.40 70.20,254.40 117.70,254.40 117.70,254.40" fill="none" stroke="#eef29a" stroke-width="1.7" stroke-linejoin="miter"/>
<line x1="192.8" y1="180.1" x2="203.8" y2="180.1" stroke="#2a2850" stroke-width="1.7"/>
<line x1="198.3" y1="178.2" x2="198.3" y2="180.9" stroke="#2a2850" stroke-width="1.0"/>
<text x="209.2" y="182.9" font-size="8.4" font-weight="normal" text-anchor="start" fill="#383838" font-family='"Liberation Sans", sans-serif' font-style="normal" textLength="43.1" lengthAdjust="spacingAndGlyphs" stroke="#383838" stroke-width="0.2">Intermediate</text>
<line x1="192.8" y1="191.3" x2="203.8" y2="191.3" stroke="#b02c40" stroke-width="1.7"/>
<line x1="198.3" y1="189.4" x2="198.3" y2="192.10000000000002" stroke="#b02c40" stroke-width="1.0"/>
<text x="209.2" y="194.10000000000002" font-size="8.4" font-weight="normal" text-anchor="start" fill="#383838" font-family='"Liberation Sans", sans-serif' font-style="normal" textLength="34.3" lengthAdjust="spacingAndGlyphs" stroke="#383838" stroke-width="0.2">Favorable</text>
<line x1="192.8" y1="202" x2="203.8" y2="202" stroke="#e6ec70" stroke-width="1.7"/>
<line x1="198.3" y1="200.1" x2="198.3" y2="202.8" stroke="#e6ec70" stroke-width="1.0"/>
<text x="209.2" y="204.8" font-size="8.4" font-weight="normal" text-anchor="start" fill="#383838" font-family='"Liberation Sans", sans-serif' font-style="normal" textLength="27.6" lengthAdjust="spacingAndGlyphs" stroke="#383838" stroke-width="0.2">Adverse</text>
<text x="310.4" y="162.3" font-size="10" font-weight="bold" text-anchor="start" fill="#1e1e1e" font-family='"Liberation Sans", sans-serif' font-style="normal" textLength="101.6" lengthAdjust="spacingAndGlyphs" stroke="#1e1e1e" stroke-width="0.15">Survival of Karyotypes</text>
<text x="390" y="193.5" font-size="9.9" font-weight="normal" text-anchor="start" fill="#333" font-family='"Liberation Sans", sans-serif' font-style="normal" textLength="39.6" lengthAdjust="spacingAndGlyphs" stroke="#333" stroke-width="0.2">P&lt;0.0001</text>
<line x1="289" y1="173.3" x2="289" y2="270.40000000000003" stroke="#1e1e1e" stroke-width="1.6"/>
<line x1="286" y1="173.8" x2="289" y2="173.8" stroke="#1e1e1e" stroke-width="1.0"/>
<text x="284.7" y="176.10000000000002" font-size="6.6" font-weight="bold" text-anchor="end" fill="#222" font-family='"Liberation Sans", sans-serif' font-style="normal" stroke="#222" stroke-width="0.3">150</text>
<line x1="286" y1="205.8" x2="289" y2="205.8" stroke="#1e1e1e" stroke-width="1.0"/>
<text x="284.7" y="208.10000000000002" font-size="6.6" font-weight="bold" text-anchor="end" fill="#222" font-family='"Liberation Sans", sans-serif' font-style="normal" stroke="#222" stroke-width="0.3">100</text>
<line x1="286" y1="237.8" x2="289" y2="237.8" stroke="#1e1e1e" stroke-width="1.0"/>
<text x="284.7" y="240.10000000000002" font-size="6.6" font-weight="bold" text-anchor="end" fill="#222" font-family='"Liberation Sans", sans-serif' font-style="normal" stroke="#222" stroke-width="0.3">50</text>
<line x1="286" y1="269.8" x2="289" y2="269.8" stroke="#1e1e1e" stroke-width="1.0"/>
<text x="284.7" y="272.1" font-size="6.6" font-weight="bold" text-anchor="end" fill="#222" font-family='"Liberation Sans", sans-serif' font-style="normal" stroke="#222" stroke-width="0.3">0</text>
<line x1="288.4" y1="269.9" x2="434.90000000000003" y2="269.9" stroke="#1e1e1e" stroke-width="1.7"/>
<line x1="289.0" y1="269.9" x2="289.0" y2="272.5" stroke="#1e1e1e" stroke-width="1.0"/>
<text x="289.0" y="279.5" font-size="6.6" font-weight="bold" text-anchor="middle" fill="#222" font-family='"Liberation Sans", sans-serif' font-style="normal" stroke="#222" stroke-width="0.3">0</text>
<line x1="325.32" y1="269.9" x2="325.32" y2="272.5" stroke="#1e1e1e" stroke-width="1.0"/>
<text x="325.32" y="279.5" font-size="6.6" font-weight="bold" text-anchor="middle" fill="#222" font-family='"Liberation Sans", sans-serif' font-style="normal" stroke="#222" stroke-width="0.3">20</text>
<line x1="361.64" y1="269.9" x2="361.64" y2="272.5" stroke="#1e1e1e" stroke-width="1.0"/>
<text x="361.64" y="279.5" font-size="6.6" font-weight="bold" text-anchor="middle" fill="#222" font-family='"Liberation Sans", sans-serif' font-style="normal" stroke="#222" stroke-width="0.3">40</text>
<line x1="397.96000000000004" y1="269.9" x2="397.96000000000004" y2="272.5" stroke="#1e1e1e" stroke-width="1.0"/>
<text x="397.96000000000004" y="279.5" font-size="6.6" font-weight="bold" text-anchor="middle" fill="#222" font-family='"Liberation Sans", sans-serif' font-style="normal" stroke="#222" stroke-width="0.3">60</text>
<line x1="434.28" y1="269.9" x2="434.28" y2="272.5" stroke="#1e1e1e" stroke-width="1.0"/>
<text x="434.28" y="279.5" font-size="6.6" font-weight="bold" text-anchor="middle" fill="#222" font-family='"Liberation Sans", sans-serif' font-style="normal" stroke="#222" stroke-width="0.3">80</text>
<text x="0" y="0" font-size="8" font-weight="bold" text-anchor="middle" fill="#222" font-family='"Liberation Sans", sans-serif' textLength="60.6" lengthAdjust="spacingAndGlyphs" transform="translate(268.4,221.4) rotate(-90)">Percent survival</text>
<text x="361.4" y="291.3" font-size="8" font-weight="bold" text-anchor="middle" fill="#222" font-family='"Liberation Sans", sans-serif' font-style="normal" textLength="43" lengthAdjust="spacingAndGlyphs" stroke="#222" stroke-width="0.15">OS (month)</text>
<polyline points="289.00,205.60 291.00,205.60 291.00,205.70 300.00,205.70 300.00,206.90 306.00,206.90 306.00,207.50 310.00,207.50 310.00,208.00 320.00,208.00 320.00,208.60 330.00,208.60 330.00,209.20 335.00,209.20 335.00,209.20 373.80,209.20 373.80,211.90 409.20,211.90 409.20,211.90" fill="none" stroke="#cc4a5e" stroke-width="1.3" stroke-linejoin="miter"/>
<line x1="300" y1="205.70000000000002" x2="300" y2="208.1" stroke="#b02a40" stroke-width="0.8"/>
<line x1="301.98021699114366" y1="205.70000000000002" x2="301.98021699114366" y2="208.1" stroke="#b02a40" stroke-width="0.8"/>
<line x1="304.0619559690223" y1="205.70000000000002" x2="304.0619559690223" y2="208.1" stroke="#b02a40" stroke-width="0.8"/>
<line x1="307.2264316753401" y1="206.3" x2="307.2264316753401" y2="208.7" stroke="#b02a40" stroke-width="0.8"/>
<line x1="309.66023534459003" y1="206.3" x2="309.66023534459003" y2="208.7" stroke="#b02a40" stroke-width="0.8"/>
<line x1="312.137724092889" y1="206.8" x2="312.137724092889" y2="209.2" stroke="#b02a40" stroke-width="0.8"/>
<line x1="313.7560560710718" y1="206.8" x2="313.7560560710718" y2="209.2" stroke="#b02a40" stroke-width="0.8"/>
<line x1="316.020392621158" y1="206.8" x2="316.020392621158" y2="209.2" stroke="#b02a40" stroke-width="0.8"/>
<line x1="318.54833696323334" y1="206.8" x2="318.54833696323334" y2="209.2" stroke="#b02a40" stroke-width="0.8"/>
<line x1="320.1804215877207" y1="207.4" x2="320.1804215877207" y2="209.79999999999998" stroke="#b02a40" stroke-width="0.8"/>
<line x1="322.76569829381066" y1="207.4" x2="322.76569829381066" y2="209.79999999999998" stroke="#b02a40" stroke-width="0.8"/>
<line x1="325.37718715028444" y1="207.4" x2="325.37718715028444" y2="209.79999999999998" stroke="#b02a40" stroke-width="0.8"/>
<line x1="327.0733159672888" y1="207.4" x2="327.0733159672888" y2="209.79999999999998" stroke="#b02a40" stroke-width="0.8"/>
<line x1="329.6770617417063" y1="207.4" x2="329.6770617417063" y2="209.79999999999998" stroke="#b02a40" stroke-width="0.8"/>
<line x1="332.02306242922106" y1="208.0" x2="332.02306242922106" y2="210.39999999999998" stroke="#b02a40" stroke-width="0.8"/>
<line x1="334.709912666082" y1="208.0" x2="334.709912666082" y2="210.39999999999998" stroke="#b02a40" stroke-width="0.8"/>
<line x1="336.8740358389477" y1="208.0" x2="336.8740358389477" y2="210.39999999999998" stroke="#b02a40" stroke-width="0.8"/>
<line x1="339.6051562379331" y1="208.0" x2="339.6051562379331" y2="210.39999999999998" stroke="#b02a40" stroke-width="0.8"/>
<line x1="342.38601110073637" y1="208.0" x2="342.38601110073637" y2="210.39999999999998" stroke="#b02a40" stroke-width="0.8"/>
<line x1="344.02150305112167" y1="208.0" x2="344.02150305112167" y2="210.39999999999998" stroke="#b02a40" stroke-width="0.8"/>
<line x1="345.71842593695493" y1="208.0" x2="345.71842593695493" y2="210.39999999999998" stroke="#b02a40" stroke-width="0.8"/>
<line x1="348.40005843213476" y1="208.0" x2="348.40005843213476" y2="210.39999999999998" stroke="#b02a40" stroke-width="0.8"/>
<line x1="351.54134736075275" y1="208.0" x2="351.54134736075275" y2="210.39999999999998" stroke="#b02a40" stroke-width="0.8"/>
<line x1="353.54314300584633" y1="208.0" x2="353.54314300584633" y2="210.39999999999998" stroke="#b02a40" stroke-width="0.8"/>
<line x1="355.87324241326456" y1="208.0" x2="355.87324241326456" y2="210.39999999999998" stroke="#b02a40" stroke-width="0.8"/>
<line x1="358.42151741433094" y1="208.0" x2="358.42151741433094" y2="210.39999999999998" stroke="#b02a40" stroke-width="0.8"/>
<line x1="360.5335580315277" y1="208.0" x2="360.5335580315277" y2="210.39999999999998" stroke="#b02a40" stroke-width="0.8"/>
<line x1="362.7158861744717" y1="208.0" x2="362.7158861744717" y2="210.39999999999998" stroke="#b02a40" stroke-width="0.8"/>
<line x1="364.8161592323867" y1="208.0" x2="364.8161592323867" y2="210.39999999999998" stroke="#b02a40" stroke-width="0.8"/>
<line x1="367.00680559282983" y1="208.0" x2="367.00680559282983" y2="210.39999999999998" stroke="#b02a40" stroke-width="0.8"/>
<line x1="369.5598000022019" y1="208.0" x2="369.5598000022019" y2="210.39999999999998" stroke="#b02a40" stroke-width="0.8"/>
<line x1="371.6404463595868" y1="208.0" x2="371.6404463595868" y2="210.39999999999998" stroke="#b02a40" stroke-width="0.8"/>
<line x1="373.8439029057131" y1="210.70000000000002" x2="373.8439029057131" y2="213.1" stroke="#b02a40" stroke-width="0.8"/>
<line x1="376.67954036562367" y1="210.70000000000002" x2="376.67954036562367" y2="213.1" stroke="#b02a40" stroke-width="0.8"/>
<line x1="378.3226142936386" y1="210.70000000000002" x2="378.3226142936386" y2="213.1" stroke="#b02a40" stroke-width="0.8"/>
<line x1="380.83342709695154" y1="210.70000000000002" x2="380.83342709695154" y2="213.1" stroke="#b02a40" stroke-width="0.8"/>
<line x1="383.60970418763713" y1="210.70000000000002" x2="383.60970418763713" y2="213.1" stroke="#b02a40" stroke-width="0.8"/>
<line x1="385.7057309002933" y1="210.70000000000002" x2="385.7057309002933" y2="213.1" stroke="#b02a40" stroke-width="0.8"/>
<line x1="387.6617914487624" y1="210.70000000000002" x2="387.6617914487624" y2="213.1" stroke="#b02a40" stroke-width="0.8"/>
<line x1="390.54788372139427" y1="210.70000000000002" x2="390.54788372139427" y2="213.1" stroke="#b02a40" stroke-width="0.8"/>
<line x1="392.5297960044308" y1="210.70000000000002" x2="392.5297960044308" y2="213.1" stroke="#b02a40" stroke-width="0.8"/>
<line x1="394.4296269498995" y1="210.70000000000002" x2="394.4296269498995" y2="213.1" stroke="#b02a40" stroke-width="0.8"/>
<line x1="396.726001862752" y1="210.70000000000002" x2="396.726001862752" y2="213.1" stroke="#b02a40" stroke-width="0.8"/>
<line x1="399.44290811343177" y1="210.70000000000002" x2="399.44290811343177" y2="213.1" stroke="#b02a40" stroke-width="0.8"/>
<line x1="401.2058548216428" y1="210.70000000000002" x2="401.2058548216428" y2="213.1" stroke="#b02a40" stroke-width="0.8"/>
<line x1="403.3210003970368" y1="210.70000000000002" x2="403.3210003970368" y2="213.1" stroke="#b02a40" stroke-width="0.8"/>
<line x1="405.4550062377547" y1="210.70000000000002" x2="405.4550062377547" y2="213.1" stroke="#b02a40" stroke-width="0.8"/>
<line x1="408.3886684642464" y1="210.70000000000002" x2="408.3886684642464" y2="213.1" stroke="#b02a40" stroke-width="0.8"/>
<polyline points="289.00,205.60 300.00,205.60 300.00,207.30 305.00,207.30 305.00,208.20 309.00,208.20 309.00,209.30 310.20,209.30 310.20,212.10 318.00,212.10 318.00,213.00 330.00,213.00 330.00,214.40 340.00,214.40 340.00,214.90 347.50,214.90 347.50,215.50 355.00,215.50 355.00,216.50 360.00,216.50 360.00,217.20 366.30,217.20 366.30,218.20 373.80,218.20 373.80,219.80 379.60,219.80 379.60,223.50 388.00,223.50 388.00,226.70 409.20,226.70 409.20,226.70" fill="none" stroke="#23235e" stroke-width="1.3" stroke-linejoin="miter"/>
<line x1="300" y1="206.10000000000002" x2="300" y2="208.5" stroke="#23235e" stroke-width="0.8"/>
<line x1="303.1688563103758" y1="206.10000000000002" x2="303.1688563103758" y2="208.5" stroke="#23235e" stroke-width="0.8"/>
<line x1="305.2397110824661" y1="207.0" x2="305.2397110824661" y2="209.39999999999998" stroke="#23235e" stroke-width="0.8"/>
<line x1="307.57844745853794" y1="207.0" x2="307.57844745853794" y2="209.39999999999998" stroke="#23235e" stroke-width="0.8"/>
<line x1="310.4188192606059" y1="210.9" x2="310.4188192606059" y2="213.29999999999998" stroke="#23235e" stroke-width="0.8"/>
<line x1="313.63465649567996" y1="210.9" x2="313.63465649567996" y2="213.29999999999998" stroke="#23235e" stroke-width="0.8"/>
<line x1="316.15641999053634" y1="210.9" x2="316.15641999053634" y2="213.29999999999998" stroke="#23235e" stroke-width="0.8"/>
<line x1="318.31646453889294" y1="211.8" x2="318.31646453889294" y2="214.2" stroke="#23235e" stroke-width="0.8"/>
<line x1="320.3099354584294" y1="211.8" x2="320.3099354584294" y2="214.2" stroke="#23235e" stroke-width="0.8"/>
<line x1="322.9573396637228" y1="211.8" x2="322.9573396637228" y2="214.2" stroke="#23235e" stroke-width="0.8"/>
<line x1="325.0626257530852" y1="211.8" x2="325.0626257530852" y2="214.2" stroke="#23235e" stroke-width="0.8"/>
<line x1="328.1534693332859" y1="211.8" x2="328.1534693332859" y2="214.2" stroke="#23235e" stroke-width="0.8"/>
<line x1="331.29503153973104" y1="213.20000000000002" x2="331.29503153973104" y2="215.6" stroke="#23235e" stroke-width="0.8"/>
<line x1="333.38876964101945" y1="213.20000000000002" x2="333.38876964101945" y2="215.6" stroke="#23235e" stroke-width="0.8"/>
<line x1="335.6345170682459" y1="213.20000000000002" x2="335.6345170682459" y2="215.6" stroke="#23235e" stroke-width="0.8"/>
<line x1="338.726079337313" y1="213.20000000000002" x2="338.726079337313" y2="215.6" stroke="#23235e" stroke-width="0.8"/>
<line x1="341.5531789477077" y1="213.70000000000002" x2="341.5531789477077" y2="216.1" stroke="#23235e" stroke-width="0.8"/>
<line x1="344.6431914935238" y1="213.70000000000002" x2="344.6431914935238" y2="216.1" stroke="#23235e" stroke-width="0.8"/>
<line x1="346.9956439813439" y1="213.70000000000002" x2="346.9956439813439" y2="216.1" stroke="#23235e" stroke-width="0.8"/>
<line x1="349.00314660181766" y1="214.3" x2="349.00314660181766" y2="216.7" stroke="#23235e" stroke-width="0.8"/>
<line x1="351.27025522721055" y1="214.3" x2="351.27025522721055" y2="216.7" stroke="#23235e" stroke-width="0.8"/>
<line x1="354.3404343063852" y1="214.3" x2="354.3404343063852" y2="216.7" stroke="#23235e" stroke-width="0.8"/>
<line x1="356.574313496648" y1="215.3" x2="356.574313496648" y2="217.7" stroke="#23235e" stroke-width="0.8"/>
<line x1="358.928480345715" y1="215.3" x2="358.928480345715" y2="217.7" stroke="#23235e" stroke-width="0.8"/>
<line x1="361.3955294591126" y1="216.0" x2="361.3955294591126" y2="218.39999999999998" stroke="#23235e" stroke-width="0.8"/>
<line x1="363.8671633531786" y1="216.0" x2="363.8671633531786" y2="218.39999999999998" stroke="#23235e" stroke-width="0.8"/>
<line x1="366.32239873949715" y1="217.0" x2="366.32239873949715" y2="219.39999999999998" stroke="#23235e" stroke-width="0.8"/>
<line x1="369.59537855227734" y1="217.0" x2="369.59537855227734" y2="219.39999999999998" stroke="#23235e" stroke-width="0.8"/>
<line x1="371.6449751265787" y1="217.0" x2="371.6449751265787" y2="219.39999999999998" stroke="#23235e" stroke-width="0.8"/>
<line x1="373.4524339979117" y1="217.0" x2="373.4524339979117" y2="219.39999999999998" stroke="#23235e" stroke-width="0.8"/>
<line x1="376.7616625353823" y1="218.60000000000002" x2="376.7616625353823" y2="221.0" stroke="#23235e" stroke-width="0.8"/>
<line x1="379.96962773798396" y1="222.3" x2="379.96962773798396" y2="224.7" stroke="#23235e" stroke-width="0.8"/>
<line x1="383.34868958603005" y1="222.3" x2="383.34868958603005" y2="224.7" stroke="#23235e" stroke-width="0.8"/>
<line x1="385.8436532863111" y1="222.3" x2="385.8436532863111" y2="224.7" stroke="#23235e" stroke-width="0.8"/>
<line x1="389.16391115252395" y1="225.5" x2="389.16391115252395" y2="227.89999999999998" stroke="#23235e" stroke-width="0.8"/>
<line x1="392.4477146955821" y1="225.5" x2="392.4477146955821" y2="227.89999999999998" stroke="#23235e" stroke-width="0.8"/>
<line x1="394.6030598736178" y1="225.5" x2="394.6030598736178" y2="227.89999999999998" stroke="#23235e" stroke-width="0.8"/>
<line x1="397.59589668822" y1="225.5" x2="397.59589668822" y2="227.89999999999998" stroke="#23235e" stroke-width="0.8"/>
<line x1="400.73461457506585" y1="225.5" x2="400.73461457506585" y2="227.89999999999998" stroke="#23235e" stroke-width="0.8"/>
<line x1="403.59539409591144" y1="225.5" x2="403.59539409591144" y2="227.89999999999998" stroke="#23235e" stroke-width="0.8"/>
<line x1="406.22581805854463" y1="225.5" x2="406.22581805854463" y2="227.89999999999998" stroke="#23235e" stroke-width="0.8"/>
<line x1="408.488284996371" y1="225.5" x2="408.488284996371" y2="227.89999999999998" stroke="#23235e" stroke-width="0.8"/>
<polyline points="289.00,205.60 291.30,205.60 291.30,206.00 293.00,206.00 293.00,208.30 295.00,208.30 295.00,210.50 296.50,210.50 296.50,212.80 298.50,212.80 298.50,215.00 300.30,215.00 300.30,217.00 302.40,217.00 302.40,222.30 304.40,222.30 304.40,227.50 320.50,227.50 320.50,229.50 321.80,229.50 321.80,231.50 323.20,231.50 323.20,234.00 325.80,234.00 325.80,238.60 368.70,238.60 368.70,238.60" fill="none" stroke="#eef29a" stroke-width="1.7" stroke-linejoin="miter"/>
<line x1="444" y1="179.7" x2="455.0" y2="179.7" stroke="#2a2850" stroke-width="1.7"/>
<line x1="449.5" y1="177.79999999999998" x2="449.5" y2="180.5" stroke="#2a2850" stroke-width="1.0"/>
<text x="460.5" y="182.5" font-size="8.4" font-weight="normal" text-anchor="start" fill="#383838" font-family='"Liberation Sans", sans-serif' font-style="normal" textLength="43" lengthAdjust="spacingAndGlyphs" stroke="#383838" stroke-width="0.2">Intermediate</text>
<line x1="444" y1="190.6" x2="455.0" y2="190.6" stroke="#b02c40" stroke-width="1.7"/>
<line x1="449.5" y1="188.7" x2="449.5" y2="191.4" stroke="#b02c40" stroke-width="1.0"/>
<text x="460.5" y="193.4" font-size="8.4" font-weight="normal" text-anchor="start" fill="#383838" font-family='"Liberation Sans", sans-serif' font-style="normal" textLength="34.4" lengthAdjust="spacingAndGlyphs" stroke="#383838" stroke-width="0.2">Favorable</text>
<line x1="444" y1="202" x2="455.0" y2="202" stroke="#e6ec70" stroke-width="1.7"/>
<line x1="449.5" y1="200.1" x2="449.5" y2="202.8" stroke="#e6ec70" stroke-width="1.0"/>
<text x="460.5" y="204.8" font-size="8.4" font-weight="normal" text-anchor="start" fill="#383838" font-family='"Liberation Sans", sans-serif' font-style="normal" textLength="28.2" lengthAdjust="spacingAndGlyphs" stroke="#383838" stroke-width="0.2">Adverse</text>
</svg></body></html>
